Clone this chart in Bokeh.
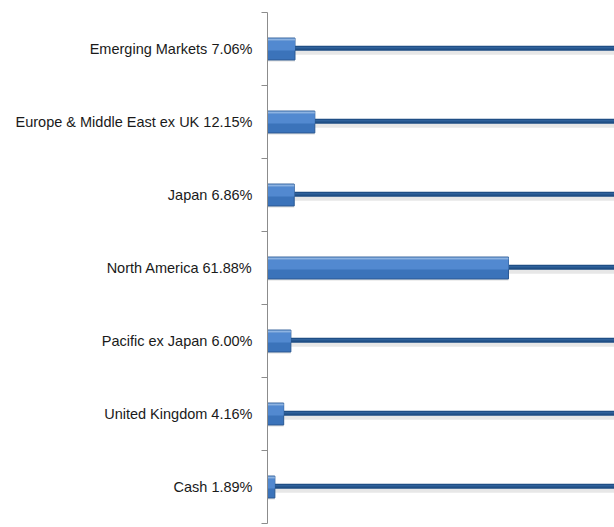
from bokeh.plotting import figure
from bokeh.models import Range1d, FixedTicker
from bokeh.transform import dodge
from bokeh.embed import file_html
from bokeh.resources import INLINE

categories = ["Emerging Markets", "Europe & Middle East ex UK", "Japan",
              "North America", "Pacific ex Japan", "United Kingdom", "Cash"]
values = [7.06, 12.15, 6.86, 61.88, 6.00, 4.16, 1.89]
total = 100.0

n = len(categories)
ypos = [n - 1 - i for i in range(n)]
labels = {y: f"{c} {v:.2f}%" for y, c, v in zip(ypos, categories, values)}
totals = [total] * n

p = figure(width=614, height=527, output_backend="svg", toolbar_location=None,
           x_range=Range1d(0, 89.1), y_range=Range1d(-0.5, n - 0.5),
           min_border_left=267, min_border_right=0, min_border_top=12,
           min_border_bottom=4)
p.outline_line_color = None
p.xaxis.visible = False
p.xgrid.visible = False
p.ygrid.visible = False

ax = p.yaxis[0]
ax.ticker = FixedTicker(ticks=ypos, minor_ticks=[k - 0.5 for k in range(n + 1)])
ax.major_label_overrides = labels
ax.major_tick_out = 0
ax.major_tick_in = 0
ax.minor_tick_out = 6
ax.minor_tick_in = 0
ax.axis_line_color = "#8c8c8c"
ax.minor_tick_line_color = "#8c8c8c"
ax.major_label_standoff = 9
ax.major_label_text_font = "Liberation Sans"
ax.major_label_text_font_size = "14.5px"
ax.major_label_text_color = "#1a1a1a"

data = dict(y=ypos, v=values, t=totals)

# line shadow
p.segment(x0="v", x1="t", y0=dodge("y", -0.045, range=p.y_range),
          y1=dodge("y", -0.045, range=p.y_range), source=data,
          line_color="#d0d0d0", line_width=5, line_alpha=0.5)
# line
p.segment(x0="v", x1="t", y0=dodge("y", 0.01, range=p.y_range),
          y1=dodge("y", 0.01, range=p.y_range), source=data,
          line_color="#1f4e85", line_width=5)
p.segment(x0="v", x1="t", y0=dodge("y", 0.016, range=p.y_range),
          y1=dodge("y", 0.016, range=p.y_range), source=data,
          line_color="#3a6ea8", line_width=1)

# bar shadow
p.hbar(y=dodge("y", -0.02, range=p.y_range), left=0, right="v", height=0.3,
       source=data, fill_color="#bbbbbb", fill_alpha=0.5, line_color=None)
# bar
p.hbar(y="y", left=0, right="v", height=0.3, source=data,
       fill_color="#3b73ba", line_color="#2b5a94", line_width=1)
p.hbar(y=dodge("y", 0.05, range=p.y_range), left=0, right="v", height=0.14,
       source=data, fill_color="#5289d0", line_color=None)
p.hbar(y=dodge("y", 0.13, range=p.y_range), left=0, right="v", height=0.03,
       source=data, fill_color="#8db3e2", line_color=None)

open("out.html", "w").write(file_html(p, INLINE))
